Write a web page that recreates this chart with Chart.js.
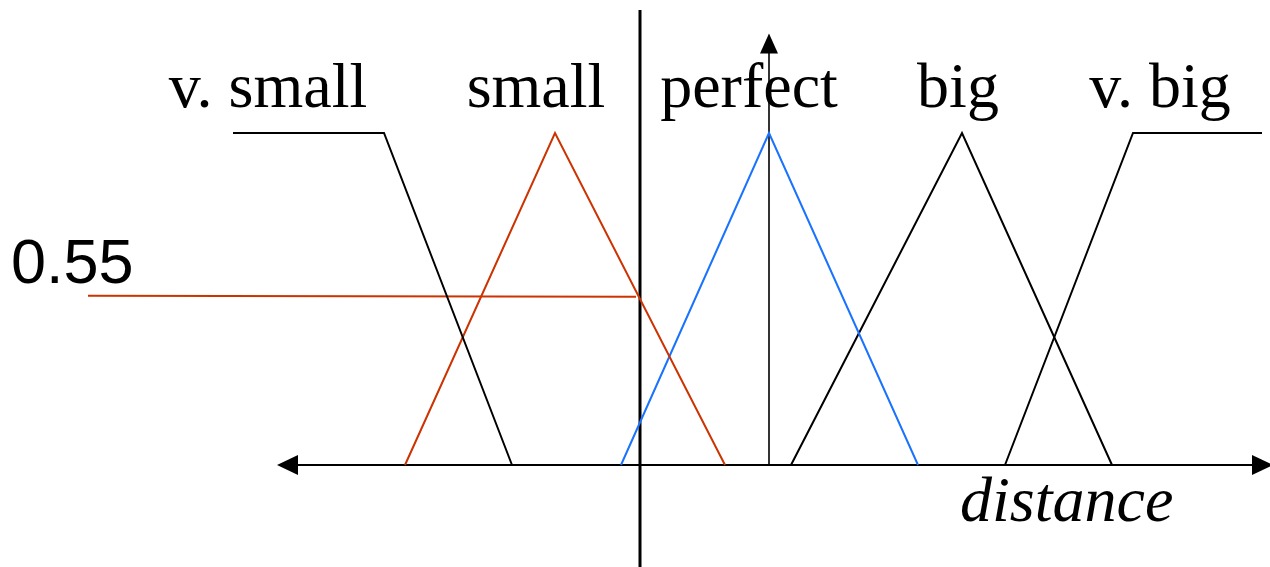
<!DOCTYPE html>
<html>
<head>
<meta charset="utf-8">
<script src="https://cdn.jsdelivr.net/npm/chart.js@4.4.1/dist/chart.umd.min.js"></script>
<style>
  html, body { margin: 0; padding: 0; background: #fff; }
  #wrap { width: 1270px; height: 567px; position: relative; }
</style>
</head>
<body>
<div id="wrap"><canvas id="fuzzy"></canvas></div>
<script>
// membership functions (distance, membership degree)
const terms = ['v. small', 'small', 'perfect', 'big', 'v. big'];
const vSmallX = [-5.36, -3.85, -2.57];
const vSmallY = [1, 1, 0];
const smallX = [-3.64, -2.14, -0.44];
const smallY = [0, 1, 0];
const perfectX = [-1.48, 0, 1.49];
const perfectY = [0, 1, 0];
const bigX = [0.22, 1.93, 3.43];
const bigY = [0, 1, 0];
const vBigX = [2.36, 3.64, 4.93];
const vBigY = [0, 1, 1];

// the measured input and the degree it gives for "small"
const inputDistance = -1.29;
const cutLevel = 0.51;
const cutLabel = '0.55';
const axisTitle = 'distance';

const toPoints = (xs, ys) => xs.map((x, i) => ({ x: x, y: ys[i] }));

const RED = '#cc3300';
const BLUE = '#1a73ff';

// arrows, the input line and all the text
const decorPlugin = {
    id: 'decor',
    beforeDatasetsDraw(chart) {
        const ctx = chart.ctx;
        const xs = chart.scales.x;
        const ys = chart.scales.y;
        const y0 = ys.getPixelForValue(0);
        const xOrigin = xs.getPixelForValue(0);

        ctx.save();
        ctx.strokeStyle = '#000';
        ctx.fillStyle = '#000';

        // horizontal axis with two arrowheads
        const left = xs.getPixelForValue(-4.89);
        const right = xs.getPixelForValue(5.01);
        ctx.lineWidth = 2;
        ctx.beginPath();
        ctx.moveTo(left + 10, y0);
        ctx.lineTo(right - 10, y0);
        ctx.stroke();
        ctx.beginPath();
        ctx.moveTo(left - 3, y0);
        ctx.lineTo(left + 18, y0 - 10);
        ctx.lineTo(left + 18, y0 + 10);
        ctx.closePath();
        ctx.fill();
        ctx.beginPath();
        ctx.moveTo(right + 3, y0);
        ctx.lineTo(right - 18, y0 - 10);
        ctx.lineTo(right - 18, y0 + 10);
        ctx.closePath();
        ctx.fill();

        // vertical membership axis
        const top = ys.getPixelForValue(1.30);
        ctx.lineWidth = 1.6;
        ctx.beginPath();
        ctx.moveTo(xOrigin, y0);
        ctx.lineTo(xOrigin, top + 15);
        ctx.stroke();
        ctx.beginPath();
        ctx.moveTo(xOrigin, top);
        ctx.lineTo(xOrigin - 9, top + 20);
        ctx.lineTo(xOrigin + 9, top + 20);
        ctx.closePath();
        ctx.fill();

        // thick input line
        const xi = xs.getPixelForValue(inputDistance);
        ctx.lineWidth = 3;
        ctx.beginPath();
        ctx.moveTo(xi, 10);
        ctx.lineTo(xi, chart.height);
        ctx.stroke();

        // term labels above each set
        const labelY = ys.getPixelForValue(1.078);
        const labelCx = [-5.01, -2.33, -0.20, 1.89, 3.91];
        ctx.font = '64px "Liberation Serif", "Times New Roman", serif';
        ctx.textAlign = 'center';
        ctx.textBaseline = 'alphabetic';
        terms.forEach((t, i) => {
            ctx.fillText(t, xs.getPixelForValue(labelCx[i]), labelY);
        });

        // axis title
        ctx.font = 'italic 64px "Liberation Serif", "Times New Roman", serif';
        ctx.textAlign = 'left';
        ctx.fillText(axisTitle, xs.getPixelForValue(1.91), ys.getPixelForValue(-0.169));

        // cut level label
        ctx.font = '63px "Liberation Sans", Arial, sans-serif';
        ctx.fillText(cutLabel, xs.getPixelForValue(-7.58), ys.getPixelForValue(0.548));
        ctx.restore();
    }
};

const lineSet = (data, color) => ({
    data: data,
    borderColor: color,
    borderWidth: 2,
    showLine: true,
    pointRadius: 0,
    tension: 0,
    fill: false
});

const ctx = document.getElementById('fuzzy').getContext('2d');
new Chart(ctx, {
    type: 'scatter',
    data: {
        datasets: [
            lineSet(toPoints(vSmallX, vSmallY), '#000'),
            lineSet(toPoints(smallX, smallY), RED),
            lineSet(toPoints(perfectX, perfectY), BLUE),
            lineSet(toPoints(bigX, bigY), '#000'),
            lineSet(toPoints(vBigX, vBigY), '#000'),
            lineSet([{ x: -6.81, y: cutLevel }, { x: inputDistance - 0.04, y: cutLevel - 0.003 }], RED)
        ]
    },
    options: {
        responsive: true,
        maintainAspectRatio: false,
        animation: false,
        layout: { padding: 0 },
        plugins: { legend: { display: false }, tooltip: { enabled: false } },
        scales: {
            x: { type: 'linear', display: false, min: -7.69, max: 5.01 },
            y: { type: 'linear', display: false, min: -0.3072, max: 1.4006 }
        }
    },
    plugins: [decorPlugin]
});
</script>
</body>
</html>
